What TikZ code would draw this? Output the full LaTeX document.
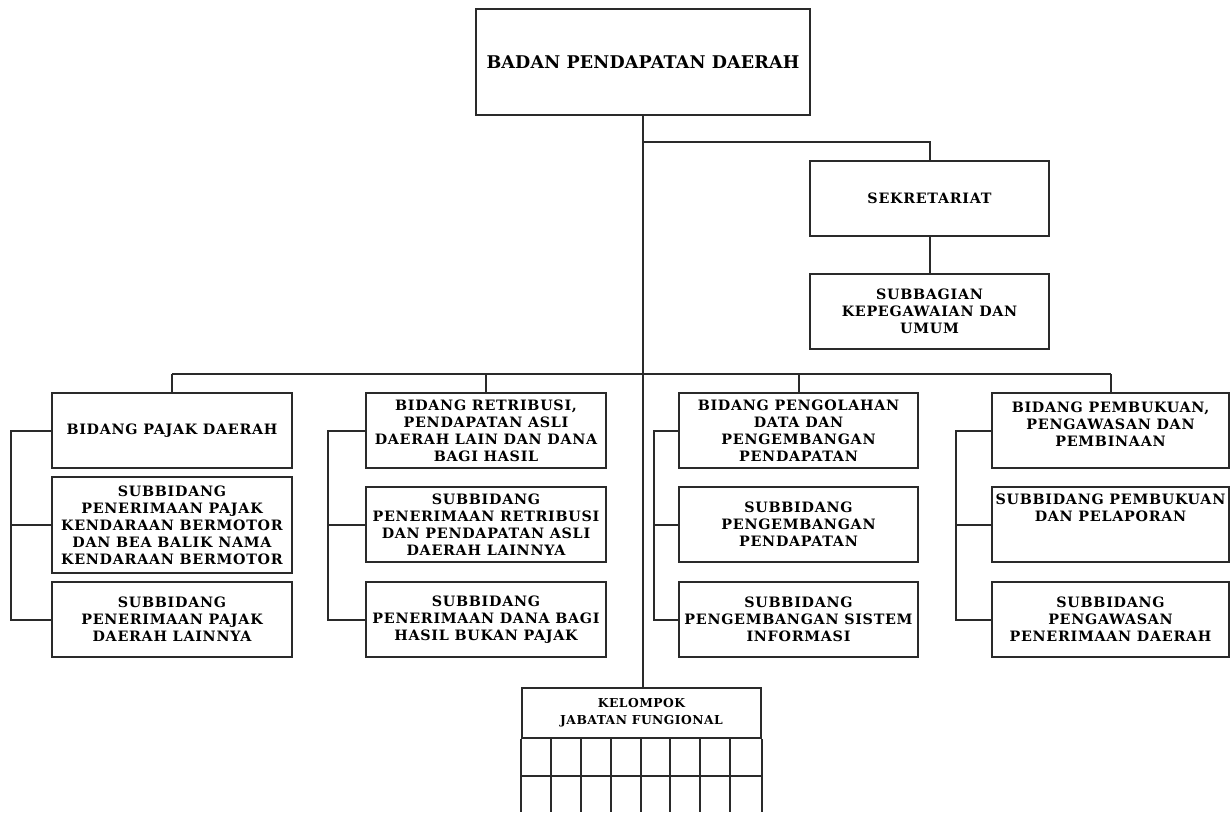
\documentclass[tikz,border=0pt]{standalone}
\usepackage{fontspec}
\newfontfamily\orgfont[LetterSpace=5]{DejaVu Serif}
\newfontfamily\ttlfont[LetterSpace=1]{DejaVu Serif}
\newfontfamily\kelfont[LetterSpace=4]{DejaVu Serif}
\definecolor{ln}{HTML}{2A2A2A}
\tikzset{
  box/.style={draw=ln, line width=2pt, fill=white, inner sep=0pt, align=center,
    font=\orgfont\bfseries\fontsize{14.3}{17}\selectfont, text=black},
  txt/.style={inner sep=0pt, align=center, font=\orgfont\bfseries\fontsize{14.3}{17}\selectfont, text=black},
  conn/.style={draw=ln, line width=2pt},
}
\begin{document}
\begin{tikzpicture}[x=1pt,y=-1pt]
\useasboundingbox (0,0) rectangle (1231,812);
% top
\node[box, minimum width=334pt, minimum height=106pt, font=\ttlfont\bfseries\fontsize{17.5}{20}\selectfont] (top) at (643,62) {BADAN PENDAPATAN DAERAH};
% secretariat
\node[box, minimum width=239pt, minimum height=75pt] (sek) at (929.5,198.5) {SEKRETARIAT};
\node[box, minimum width=239pt, minimum height=75pt] (sub) at (929.5,311.5) {SUBBAGIAN\\KEPEGAWAIAN DAN\\UMUM};
% column 1
\node[box, minimum width=240pt, minimum height=75pt] (c1a) at (172,430.5) {BIDANG PAJAK DAERAH};
\node[box, minimum width=240pt, minimum height=96pt] (c1b) at (172,525) {SUBBIDANG\\PENERIMAAN PAJAK\\KENDARAAN BERMOTOR\\DAN BEA BALIK NAMA\\KENDARAAN BERMOTOR};
\node[box, minimum width=240pt, minimum height=75pt] (c1c) at (172,619.5) {SUBBIDANG\\PENERIMAAN PAJAK\\DAERAH LAINNYA};
% column 2
\node[box, minimum width=240pt, minimum height=75pt] (c2a) at (486,430.5) {BIDANG RETRIBUSI,\\PENDAPATAN ASLI\\DAERAH LAIN DAN DANA\\BAGI HASIL};
\node[box, minimum width=240pt, minimum height=75pt] (c2b) at (486,524.5) {SUBBIDANG\\PENERIMAAN RETRIBUSI\\DAN PENDAPATAN ASLI\\DAERAH LAINNYA};
\node[box, minimum width=240pt, minimum height=75pt] (c2c) at (486,619.5) {SUBBIDANG\\PENERIMAAN DANA BAGI\\HASIL BUKAN PAJAK};
% column 3
\node[box, minimum width=239pt, minimum height=75pt] (c3a) at (798.5,430.5) {BIDANG PENGOLAHAN\\DATA DAN\\PENGEMBANGAN\\PENDAPATAN};
\node[box, minimum width=239pt, minimum height=75pt] (c3b) at (798.5,524.5) {SUBBIDANG\\PENGEMBANGAN\\PENDAPATAN};
\node[box, minimum width=239pt, minimum height=75pt] (c3c) at (798.5,619.5) {SUBBIDANG\\PENGEMBANGAN SISTEM\\INFORMASI};
% column 4
\node[box, minimum width=237pt, minimum height=75pt] (c4a) at (1110.5,430.5) {};
\node[txt] (c4at) at (1110.5,424) {BIDANG PEMBUKUAN,\\PENGAWASAN DAN\\PEMBINAAN};
\node[box, minimum width=237pt, minimum height=75pt] (c4b) at (1110.5,524.5) {};
\node[txt] (c4bt) at (1110.5,508) {SUBBIDANG PEMBUKUAN\\DAN PELAPORAN};
\node[box, minimum width=237pt, minimum height=75pt] (c4c) at (1110.5,619.5) {SUBBIDANG\\PENGAWASAN\\PENERIMAAN DAERAH};
% kelompok
\node[box, minimum width=239pt, minimum height=50pt, font=\kelfont\bfseries\fontsize{12.3}{17}\selectfont] (kel) at (641.5,713) {KELOMPOK\\JABATAN FUNGIONAL};
\draw[conn] (kel.south west) -- (kel.south west |- 0,812);
\draw[conn] (kel.south east) -- (kel.south east |- 0,812);
\draw[conn] (kel.south west |- 0,776) -- (kel.south east |- 0,776);
\foreach \i in {1,...,7}{
  \draw[conn] ([xshift=\i*29.875pt]kel.south west) -- ([xshift=\i*29.875pt]kel.south west |- 0,812);
}
% connectors
\coordinate (hub) at (top.south |- 0,142);
\coordinate (bar) at (top.south |- 0,374);
\draw[conn] (top.south) -- (top.south |- kel.north);
\draw[conn] (hub) -| (sek.north);
\draw[conn] (sek.south) -- (sub.north);
\draw[conn] (c1a.north |- bar) -- (c4a.north |- bar);
\foreach \n in {c1a,c2a,c3a,c4a}{
  \draw[conn] (\n.north |- bar) -- (\n.north);
}
% brackets
\coordinate (b1) at (11,0);
\coordinate (b2) at (328,0);
\coordinate (b3) at (654,0);
\coordinate (b4) at (956,0);
\draw[conn] (c1a.west) -| (b1 |- c1c.west) -- (c1c.west);
\draw[conn] (c1b.west) -- (b1 |- c1b.west);
\draw[conn] (c2a.west) -| (b2 |- c2c.west) -- (c2c.west);
\draw[conn] (c2b.west) -- (b2 |- c2b.west);
\draw[conn] (c3a.west) -| (b3 |- c3c.west) -- (c3c.west);
\draw[conn] (c3b.west) -- (b3 |- c3b.west);
\draw[conn] (c4a.west) -| (b4 |- c4c.west) -- (c4c.west);
\draw[conn] (c4b.west) -- (b4 |- c4b.west);
\end{tikzpicture}
\end{document}
